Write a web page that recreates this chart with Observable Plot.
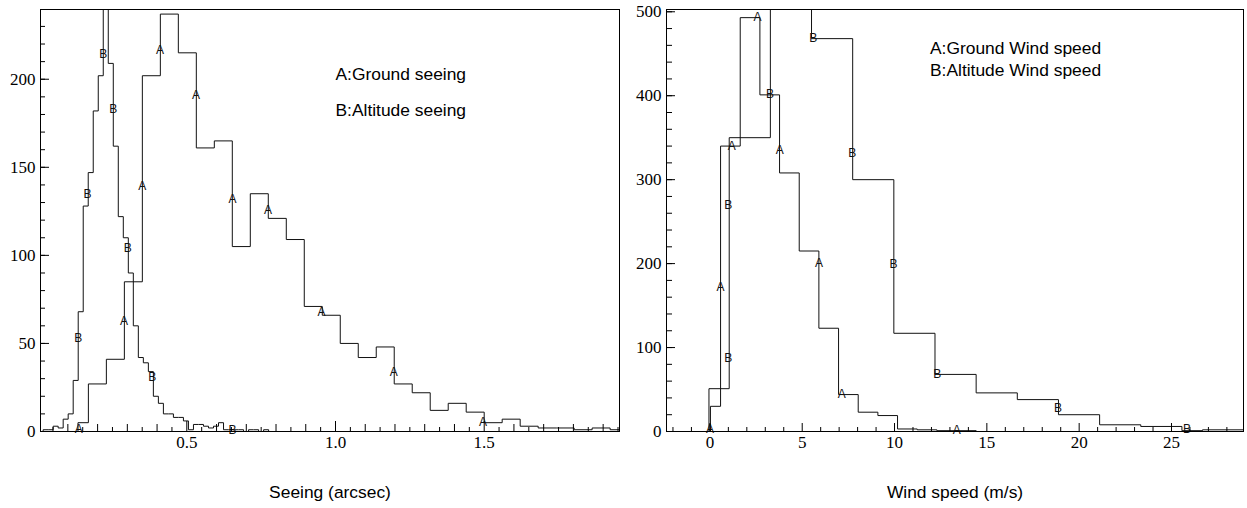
<!DOCTYPE html>
<html>
<head>
<meta charset="utf-8">
<script src="https://cdn.jsdelivr.net/npm/d3@7"></script>
<script src="https://cdn.jsdelivr.net/npm/@observablehq/plot@0.6"></script>
<style>
html, body { margin: 0; padding: 0; background: #fff; }
#wrap { display: flex; width: 1247px; height: 508px; overflow: hidden; }
#wrap svg { display: block; }
</style>
</head>
<body>
<div id="wrap"></div>
<script>
// ---------- Left panel: seeing (arcsec) ----------
// B: altitude seeing, uniform bins starting at 0
const seeingAltBinWidth = 0.01685;
const seeingAltCounts = [0,1,1,3,2,7,10,29,68,128,147,182,202,262,209,162,122,110,90,60,42,39,34,20,16,10,10,8,8,6,1,4,4,3,2,3,5,1,1,1,1,0,1,1,0,1,0];
// A: ground seeing, bin edges and counts
const seeingGroundEdges = [0.134,0.169,0.2295,0.290,0.3505,0.411,0.4715,0.532,0.5925,0.653,0.7135,0.774,0.8345,0.895,0.9555,1.016,1.0765,1.137,1.1975,1.258,1.3185,1.379,1.4395,1.500,1.5605,1.621,1.6815,1.742,1.8025,1.863,1.9235,1.984];
const seeingGroundCounts = [5,27,41,85,202,237,215,161,165,105,135,121,109,71,66,50,42,48,27,22,12,16,11,5,7,3,2,2,1,2,1];
// curve markers
const seeingMarkAx = [0.137,0.289,0.350,0.410,0.531,0.654,0.773,0.953,1.196,1.496];
const seeingMarkAy = [1.5,62.9,139.2,216.7,190.7,132,125.4,68,33.5,5.5];
const seeingMarkBx = [0.135,0.166,0.219,0.253,0.301,0.384,0.654];
const seeingMarkBy = [53,134.9,214,183.2,104,31.1,0.8];
const seeingTickLabels = [0.5, 1.0, 1.5];
const seeingYTickLabels = [0, 50, 100, 150, 200];
const seeingLegend = ["A:Ground seeing", "B:Altitude seeing"];
const seeingTitle = "Seeing (arcsec)";

// ---------- Right panel: wind speed (m/s) ----------
const windGroundEdges = [0.03,0.578,1.643,2.708,3.773,4.838,5.903,6.968,8.033,9.098,10.163,11.228,12.293,13.358,14.423];
const windGroundCounts = [30,340,493,401,308,215,123,44,23,19,3,2,1,1];
const windAltEdges = [-0.05,1.046,3.275,5.504,7.733,9.962,12.191,14.42,16.649,18.878,21.107,23.336,25.565,26.68,28.9];
const windAltCounts = [51,350,525,468,300,117,68,46,38,20,8,6,1,2];
const windMarkAx = [0,0.58,1.18,2.58,3.79,5.91,7.14,13.37];
const windMarkAy = [2.4,172,340,493,335,200,44,1.5];
const windMarkBx = [0.99,0.99,3.25,5.6,7.71,9.94,12.32,18.85,25.84];
const windMarkBy = [87,270,402,468,332,199,68,28,2.4];
const windTickLabels = [0, 5, 10, 15, 20, 25];
const windYTickLabels = [0, 100, 200, 300, 400, 500];
const windLegend = ["A:Ground Wind speed", "B:Altitude Wind speed"];
const windTitle = "Wind speed (m/s)";

// ---------- helpers ----------
const sans = "Liberation Sans";
const serif = "Liberation Serif";

function stepPoints(edges, counts) {
  const pts = [{x: edges[0], y: 0}];
  counts.forEach((c, i) => pts.push({x: edges[i], y: c}));
  const n = counts.length;
  pts.push({x: edges[n], y: counts[n - 1]});
  pts.push({x: edges[n], y: 0});
  return pts;
}
function marks(xs, ys, letter) {
  return xs.map((x, i) => ({x, y: ys[i], t: letter}));
}
const histStyle = {x: "x", y: "y", curve: "step-after", stroke: "#111", strokeWidth: 1, clip: true};
const markStyle = {x: "x", y: "y", text: "t", fontSize: 12, fontFamily: sans, fill: "#111"};
const tickOnly = {fill: "none", tickFormat: () => "", label: null, stroke: "black"};
const xLabelStyle = (fmt) => ({x: d => d, frameAnchor: "bottom", dy: 16.5, text: fmt, fontSize: 17, fontFamily: serif, fill: "black"});
const yLabelStyle = (fmt) => ({y: d => d, frameAnchor: "left", dx: -5, textAnchor: "end", text: fmt, fontSize: 17, fontFamily: serif, fill: "black"});

const seeingAltEdges = d3.range(seeingAltCounts.length + 1).map(i => i * seeingAltBinWidth);

const left = Plot.plot({
  width: 623, height: 508,
  marginLeft: 40, marginRight: 4, marginTop: 9, marginBottom: 77,
  style: {background: "white", color: "black", overflow: "visible"},
  x: {domain: [0.008, 1.955]},
  y: {domain: [0, 239.6]},
  marks: [
    Plot.line(stepPoints(seeingAltEdges, seeingAltCounts), histStyle),
    Plot.line(stepPoints(seeingGroundEdges, seeingGroundCounts), histStyle),
    Plot.text(marks(seeingMarkAx, seeingMarkAy, "A"), markStyle),
    Plot.text(marks(seeingMarkBx, seeingMarkBy, "B"), markStyle),
    Plot.text([seeingLegend[0]], {x: 1.0, y: 202.6, text: d => d, textAnchor: "start", fontSize: 17.4, fontFamily: sans, fill: "black"}),
    Plot.text([seeingLegend[1]], {x: 1.0, y: 182.1, text: d => d, textAnchor: "start", fontSize: 17.4, fontFamily: sans, fill: "black"}),
    Plot.text([seeingTitle], {frameAnchor: "bottom", dy: 66, text: d => d, fontSize: 17.4, fontFamily: sans, fill: "black"}),
    // ticks (inward)
    Plot.axisX({...tickOnly, ticks: d3.range(1, 40, 2).map(i => i * 0.05), tickSize: -4}),
    Plot.axisX({...tickOnly, ticks: d3.range(1, 20).map(i => i / 10).filter(v => Math.abs(v * 2 - Math.round(v * 2)) > 1e-9), tickSize: -7}),
    Plot.axisX({...tickOnly, ticks: seeingTickLabels, tickSize: -10}),
    Plot.axisY({...tickOnly, ticks: d3.range(0, 240, 10), tickSize: -5}),
    Plot.axisY({...tickOnly, ticks: seeingYTickLabels, tickSize: -9}),
    // tick labels
    Plot.text(seeingTickLabels, xLabelStyle(d3.format(".1f"))),
    Plot.text(seeingYTickLabels, yLabelStyle(d3.format("d"))),
    Plot.frame({stroke: "black", strokeWidth: 1})
  ]
});

const right = Plot.plot({
  width: 624, height: 508,
  marginLeft: 43, marginRight: 4, marginTop: 9, marginBottom: 77,
  style: {background: "white", color: "black", overflow: "visible"},
  x: {domain: [-2.35, 28.9]},
  y: {domain: [0, 502.7]},
  marks: [
    Plot.line(stepPoints(windAltEdges, windAltCounts), histStyle),
    Plot.line(stepPoints(windGroundEdges, windGroundCounts), histStyle),
    Plot.text(marks(windMarkAx, windMarkAy, "A"), markStyle),
    Plot.text(marks(windMarkBx, windMarkBy, "B"), markStyle),
    Plot.text([windLegend[0]], {x: 11.92, y: 456.6, text: d => d, textAnchor: "start", fontSize: 17.4, fontFamily: sans, fill: "black"}),
    Plot.text([windLegend[1]], {x: 11.92, y: 430.4, text: d => d, textAnchor: "start", fontSize: 17.4, fontFamily: sans, fill: "black"}),
    Plot.text([windTitle], {frameAnchor: "bottom", dy: 66, text: d => d, fontSize: 17.4, fontFamily: sans, fill: "black"}),
    Plot.axisX({...tickOnly, ticks: d3.range(-2, 29, 1).filter(v => v % 5 !== 0), tickSize: -4}),
    Plot.axisX({...tickOnly, ticks: windTickLabels, tickSize: -8}),
    Plot.axisY({...tickOnly, ticks: d3.range(0, 501, 20), tickSize: -6}),
    Plot.axisY({...tickOnly, ticks: windYTickLabels, tickSize: -9}),
    Plot.text(windTickLabels, xLabelStyle(d3.format("d"))),
    Plot.text(windYTickLabels, yLabelStyle(d3.format("d"))),
    Plot.frame({stroke: "black", strokeWidth: 1})
  ]
});

const wrap = document.getElementById("wrap");
wrap.appendChild(left);
wrap.appendChild(right);
</script>
</body>
</html>
